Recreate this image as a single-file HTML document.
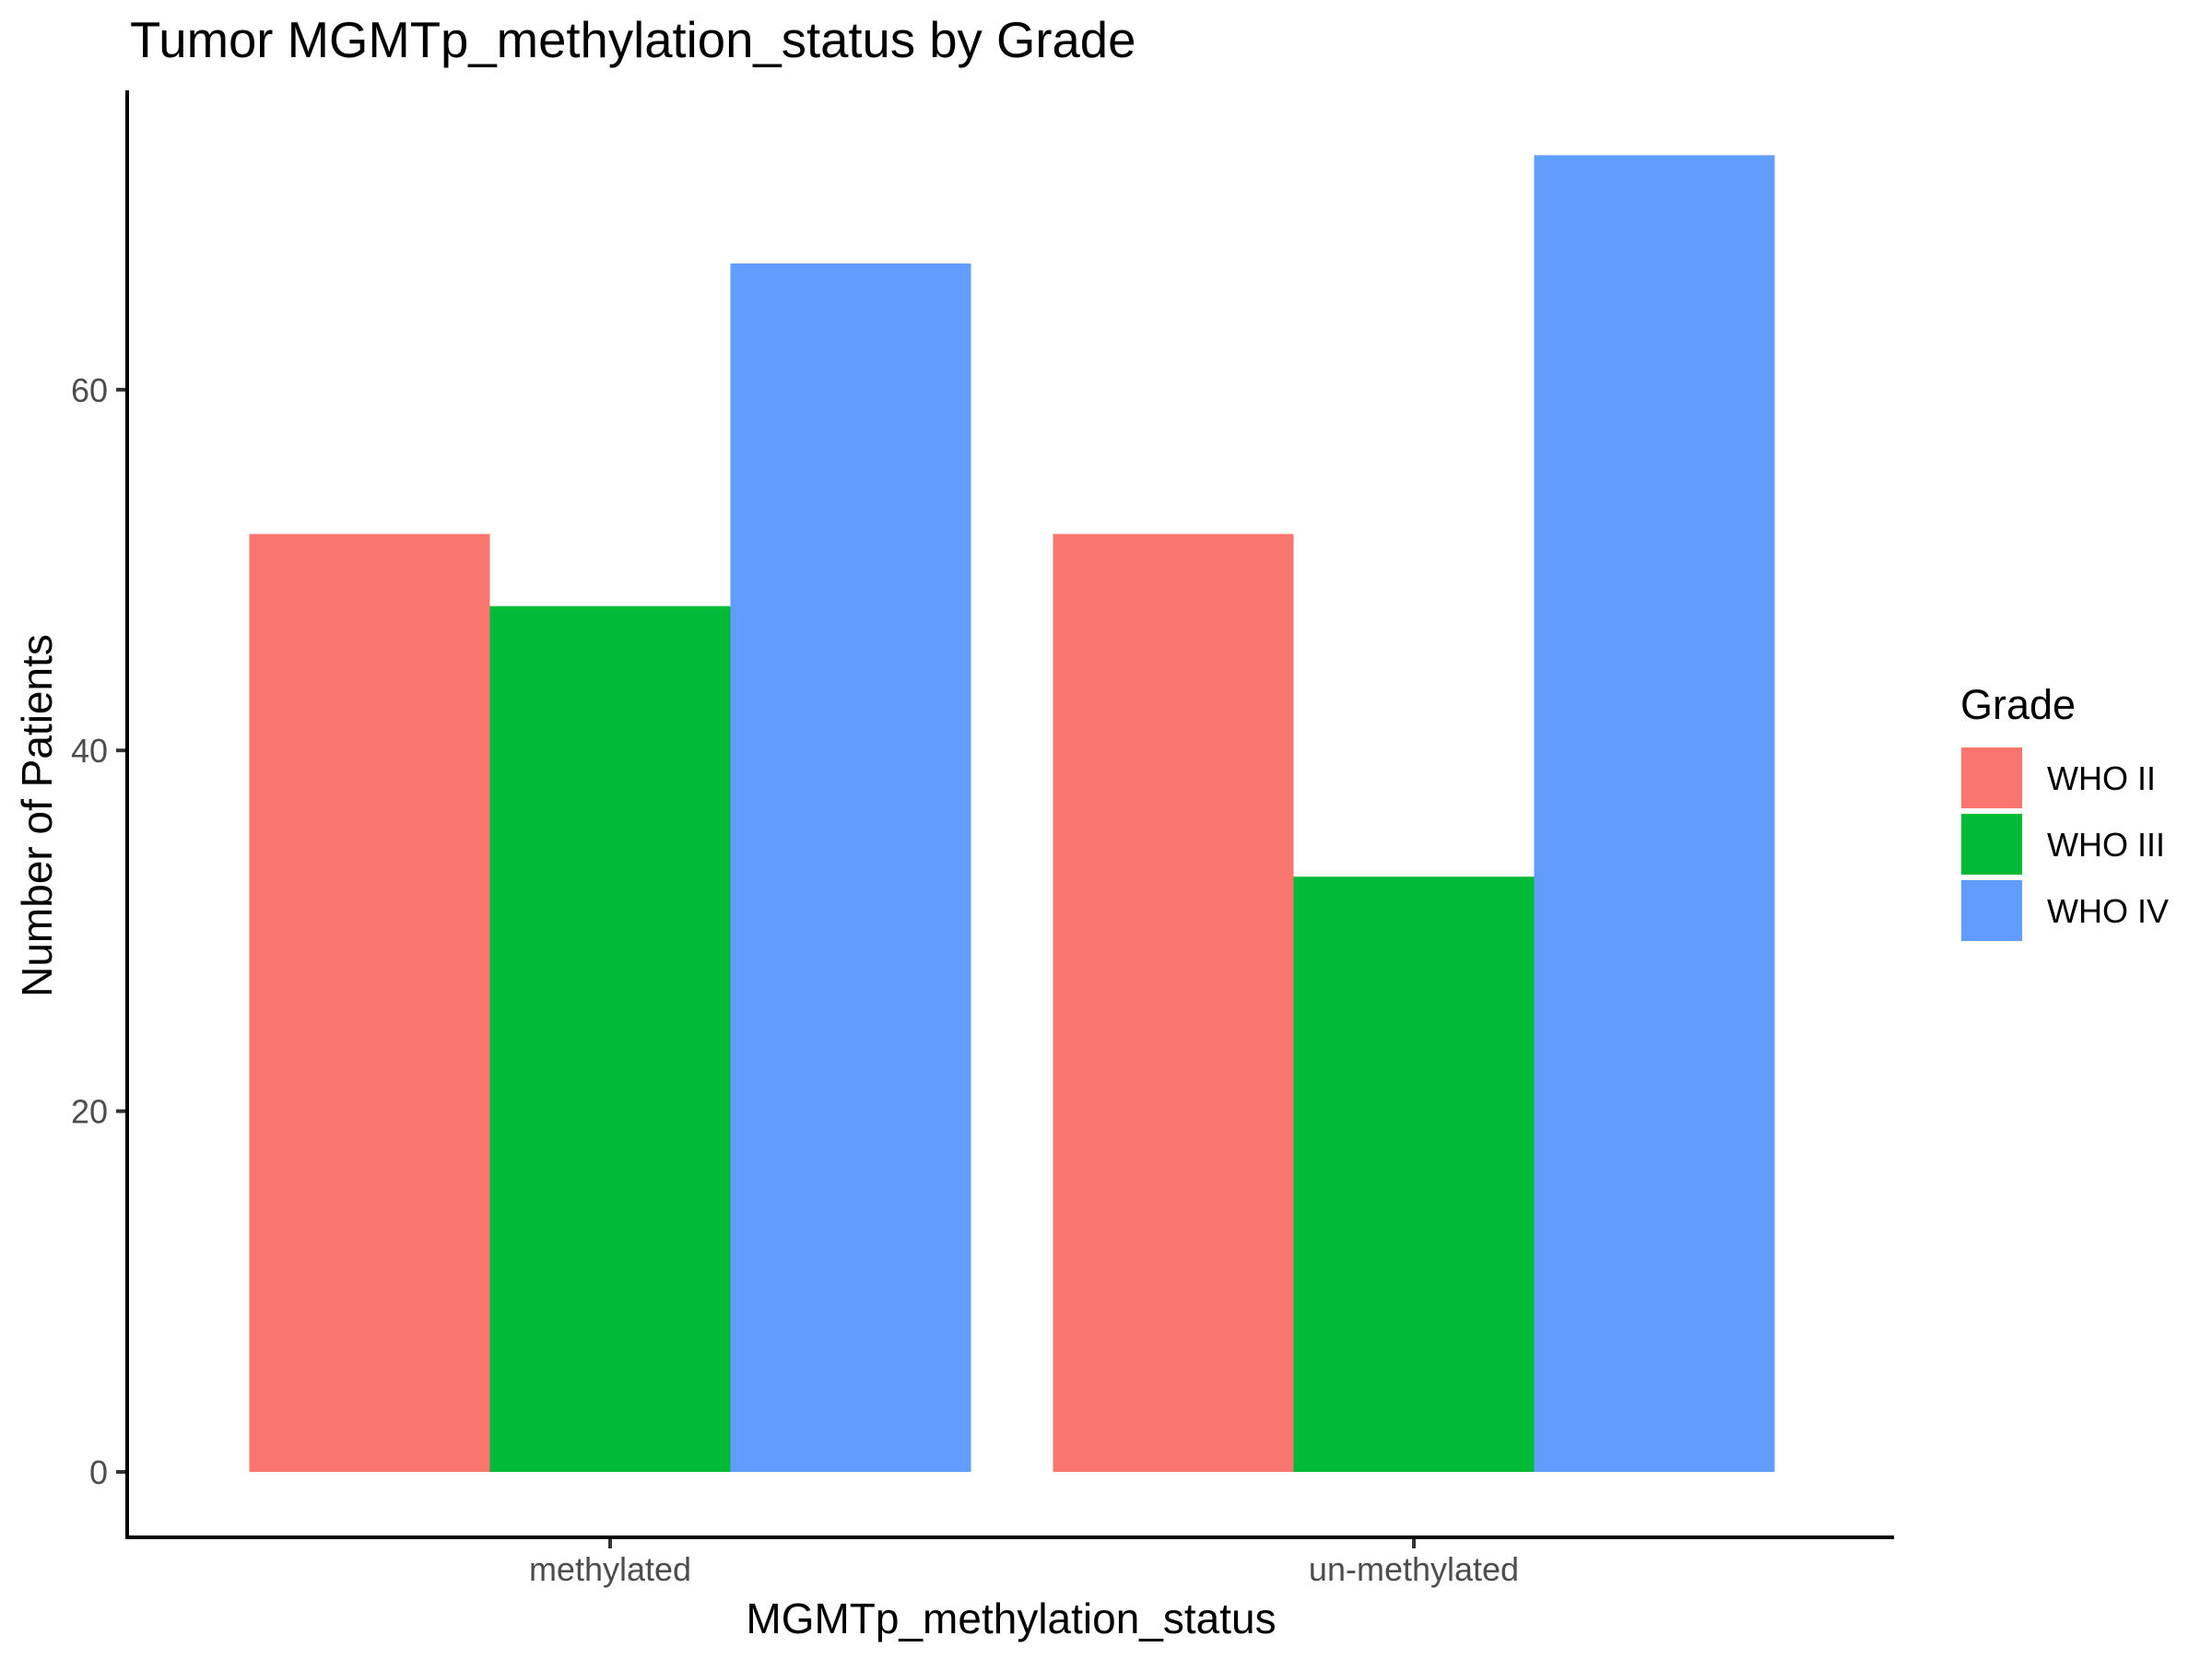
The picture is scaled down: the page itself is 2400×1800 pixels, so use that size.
<!DOCTYPE html>
<html><head><meta charset="utf-8"><style>
html,body{margin:0;padding:0;background:#fff;}
svg{display:block;font-family:"Liberation Sans",Arial,sans-serif;}
</style></head><body>
<svg id="chart" width="2400" height="1800" viewBox="0 0 2400 1800">
<text x="141" y="62" font-size="54.5" fill="#000">Tumor MGMTp_methylation_status by Grade</text>
<g id="bars"></g>
<g id="yaxis"></g>
<g id="xaxis"></g>
<line x1="138" y1="98" x2="138" y2="1670" stroke="#000" stroke-width="4"/>
<line x1="136" y1="1668" x2="2055" y2="1668" stroke="#000" stroke-width="4"/>
<text x="1097" y="1772" font-size="46" text-anchor="middle" fill="#000">MGMTp_methylation_status</text>
<text transform="translate(56,885) rotate(-90)" font-size="46" text-anchor="middle" fill="#000">Number of Patients</text>
<g id="legend">
<text x="2127" y="780" font-size="45" fill="#000">Grade</text>
</g>
</svg>
<script>
const categories = ["methylated", "un-methylated"];
const seriesNames = ["WHO II", "WHO III", "WHO IV"];
const whoII = [52, 52];
const whoIII = [48, 33];
const whoIV = [67, 73];
const yTicks = [0, 20, 40, 60];
const colors = ["#F8766D", "#00BA38", "#619CFF"];

const NS = "http://www.w3.org/2000/svg";
const y0 = 1597, pxPerUnit = 19.57;
function yScale(v){ return y0 - v * pxPerUnit; }
const groupCenters0 = 662, groupStep = 872, barW = 261;
function xCenter(i){ return groupCenters0 + i * groupStep; }
function mk(tag, attrs, parent){ const e = document.createElementNS(NS, tag); for (const k in attrs) e.setAttribute(k, attrs[k]); parent.appendChild(e); return e; }

const series = [whoII, whoIII, whoIV];
const bars = document.getElementById('bars');
categories.forEach((c, i) => {
  series.forEach((s, j) => {
    const x = xCenter(i) - 1.5 * barW + j * barW;
    const r = mk('rect', {x: x, y: yScale(s[i]), width: barW, height: yScale(0) - yScale(s[i]), fill: colors[j]}, bars);
    
    
  });
});

const ya = document.getElementById('yaxis');
yTicks.forEach(t => {
  const y = yScale(t);
  const l = mk('line', {x1: 126, y1: y, x2: 138, y2: y, stroke: '#333', 'stroke-width': 4}, ya);
  
  
  const tx = mk('text', {x: 117, y: y + 13, 'font-size': 36, 'text-anchor': 'end', fill: '#4d4d4d'}, ya);
  tx.textContent = t;
  
  
});

const xa = document.getElementById('xaxis');
categories.forEach((c, i) => {
  const x = xCenter(i);
  const l = mk('line', {x1: x, y1: 1668, x2: x, y2: 1680, stroke: '#333', 'stroke-width': 4}, xa);
  
  
  const tx = mk('text', {x: x, y: 1715, 'font-size': 36, 'text-anchor': 'middle', fill: '#4d4d4d'}, xa);
  tx.textContent = c;
  
  
});

const lg = document.getElementById('legend');
seriesNames.forEach((n, j) => {
  const top = 811 + j * 72;
  const r = mk('rect', {x: 2128, y: top, width: 66, height: 66, fill: colors[j]}, lg);
  
  
  const tx = mk('text', {x: 2221, y: top + 46, 'font-size': 36, fill: '#000'}, lg);
  tx.textContent = n;
  
  
});
</script>
</body></html>
